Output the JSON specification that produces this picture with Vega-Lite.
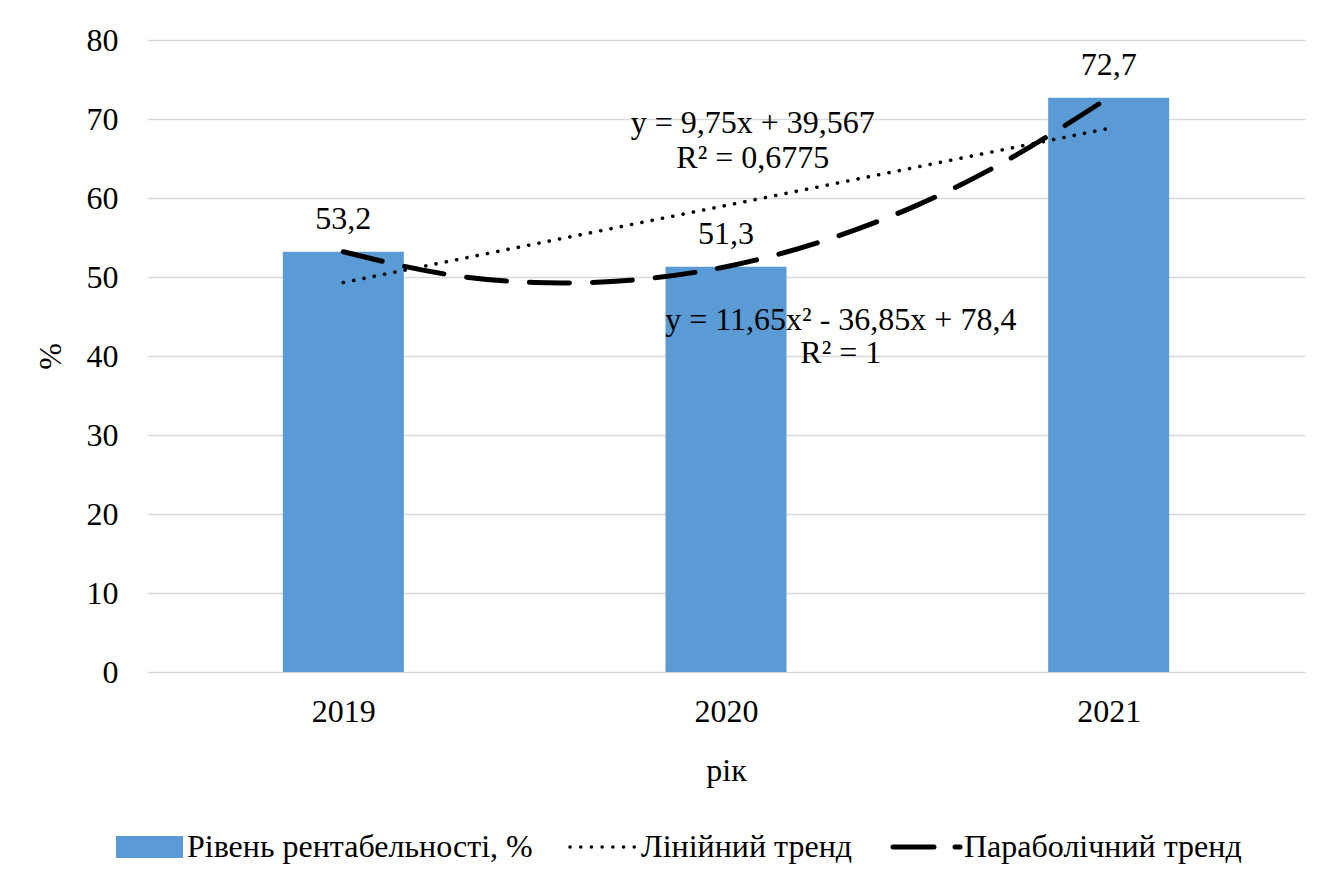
{
  "$schema": "https://vega.github.io/schema/vega-lite/v6.json",
  "width": 1158,
  "height": 632,
  "autosize": {"type": "none"},
  "padding": {"left": 147, "top": 40, "right": 33, "bottom": 197},
  "background": "white",
  "config": {
    "font": "Liberation Serif",
    "locale": {"number": {"decimal": ",", "thousands": " ", "grouping": [3], "currency": ["", ""]}},
    "view": {"stroke": null},
    "axis": {"labelFont": "Liberation Serif", "titleFont": "Liberation Serif", "labelColor": "#000000", "titleColor": "#000000", "labelFontSize": 32, "titleFontSize": 32, "titleFontWeight": "normal", "ticks": false, "domain": false, "gridColor": "#D9D9D9", "gridWidth": 1.3},
    "legend": {"labelFont": "Liberation Serif", "labelFontSize": 32, "labelColor": "#000000"},
    "text": {"font": "Liberation Serif", "fontSize": 32, "color": "#000000"}
  },
  "datasets": {
    "bars": [
      {"year": 2019, "value": 53.2, "series": "Рівень рентабельності, %"},
      {"year": 2020, "value": 51.3, "series": "Рівень рентабельності, %"},
      {"year": 2021, "value": 72.7, "series": "Рівень рентабельності, %"}
    ],
    "linear": [
      {"year": 2019, "value": 49.3, "series": "Лінійний тренд"},
      {"year": 2021, "value": 68.8, "series": "Лінійний тренд"}
    ],
    "parabolic": [
      {"year": 2019, "value": 53.2, "series": "Параболічний тренд"},
      {"year": 2019.25, "value": 50.5, "series": "Параболічний тренд"},
      {"year": 2019.5, "value": 49.3, "series": "Параболічний тренд"},
      {"year": 2019.75, "value": 49.6, "series": "Параболічний тренд"},
      {"year": 2020, "value": 51.3, "series": "Параболічний тренд"},
      {"year": 2020.25, "value": 54.5, "series": "Параболічний тренд"},
      {"year": 2020.5, "value": 59.1, "series": "Параболічний тренд"},
      {"year": 2020.75, "value": 65.2, "series": "Параболічний тренд"},
      {"year": 2021, "value": 72.7, "series": "Параболічний тренд"}
    ],
    "notes": [
      {"year": 2020.07, "value": 68.2, "label": "y = 9,75x + 39,567"},
      {"year": 2020.07, "value": 63.8, "label": "R² = 0,6775"},
      {"year": 2020.3, "value": 43.3, "label": "y = 11,65x² - 36,85x + 78,4"},
      {"year": 2020.3, "value": 39.1, "label": "R² = 1"}
    ]
  },
  "encoding": {
    "x": {"field": "year", "type": "quantitative",
      "scale": {"domain": [2018.5, 2021.5], "nice": false, "zero": false},
      "axis": {"values": [2019, 2020, 2021], "format": "d", "grid": false, "title": "рік", "labelPadding": 24, "titleX": 579, "titleY": 98, "titleBaseline": "middle", "titleAlign": "center"}},
    "y": {"field": "value", "type": "quantitative",
      "scale": {"domain": [0, 80], "nice": false},
      "axis": {"values": [0, 10, 20, 30, 40, 50, 60, 70, 80], "format": "d", "title": "%", "labelPadding": 29, "titleX": -97, "titleY": 316, "titleBaseline": "middle", "titleAlign": "center"}}
  },
  "layer": [
    {
      "data": {"name": "bars"},
      "mark": {"type": "bar", "width": 121},
      "encoding": {
        "color": {"field": "series", "type": "nominal",
          "scale": {"domain": ["Рівень рентабельності, %", "Лінійний тренд", "Параболічний тренд"], "range": ["#5B9BD5", "#000000", "#000000"]},
          "legend": {"title": null, "orient": "none", "legendX": -31, "legendY": 791, "direction": "horizontal",
            "labelFontSize": 32, "labelColor": "#000000", "symbolSize": 4489, "labelOffset": 39, "columnPadding": 30, "padding": 0, "labelLimit": 0,
            "encode": {
              "symbols": {"update": {
              "shape": {"signal": "datum.value === 'Рівень рентабельності, %' ? 'M-1,-0.33H1V0.33H-1Z' : 'stroke'"},
              "size": {"value": 4489},
              "x": {"value": 33.5},
              "fill": {"signal": "datum.value === 'Рівень рентабельності, %' ? '#5B9BD5' : 'transparent'"},
              "stroke": {"signal": "datum.value === 'Рівень рентабельності, %' ? 'transparent' : '#000000'"},
              "strokeWidth": {"signal": "datum.value === 'Рівень рентабельності, %' ? 0 : (datum.value === 'Лінійний тренд' ? 3.5 : 5)"},
              "strokeDash": {"signal": "datum.value === 'Лінійний тренд' ? [0.1, 10.6] : [41, 21]"},
              "strokeCap": {"value": "round"},
              "opacity": {"value": 1}
            }}}}
        }
      }
    },
    {
      "data": {"name": "linear"},
      "mark": {"type": "line", "strokeWidth": 3.6, "strokeDash": [0.1, 10.4], "strokeCap": "round"},
      "encoding": {"color": {"field": "series", "type": "nominal"}}
    },
    {
      "data": {"name": "parabolic"},
      "mark": {"type": "line", "strokeWidth": 5, "strokeDash": [40, 23], "strokeCap": "round", "interpolate": "natural"},
      "encoding": {"color": {"field": "series", "type": "nominal"}}
    },
    {
      "data": {"name": "bars"},
      "mark": {"type": "text", "baseline": "alphabetic", "align": "center", "dy": -23, "fontSize": 32, "color": "#000000"},
      "encoding": {"text": {"field": "value", "type": "quantitative", "format": ".1f"}}
    },
    {
      "data": {"name": "notes"},
      "mark": {"type": "text", "baseline": "alphabetic", "align": "center", "fontSize": 32, "color": "#000000"},
      "encoding": {"text": {"field": "label", "type": "nominal"}}
    }
  ]
}
